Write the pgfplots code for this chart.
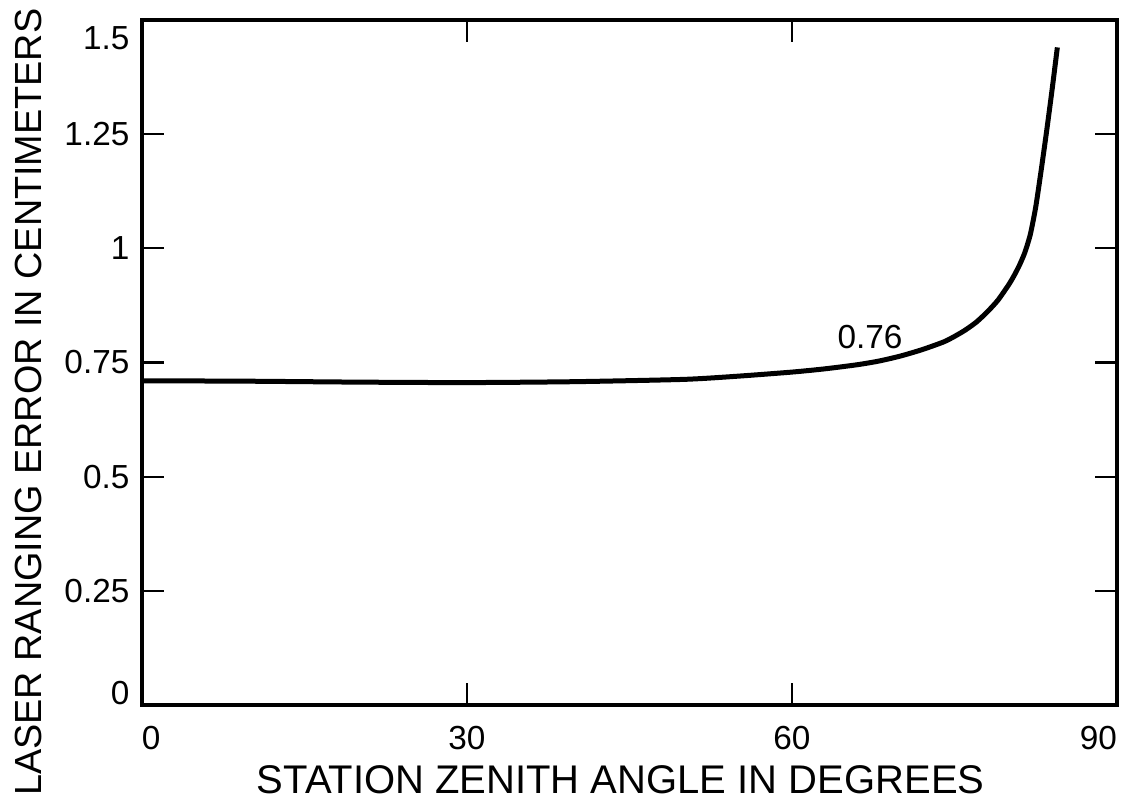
\documentclass[border=0pt]{standalone}
\usepackage{fontspec}
\setmainfont{Liberation Sans}
\usepackage{pgfplots}
\pgfplotsset{compat=1.18}
\begin{document}
\begin{tikzpicture}
\begin{axis}[
  scale only axis,
  width=351pt, height=246.6pt,
  xmin=0, xmax=90, ymin=0, ymax=1.5,
  xtick={0,30,60,90},
  ytick={0,0.25,0.5,0.75,1,1.25,1.5},
  yticklabels={\smash{0},0.25,0.5,0.75,1,1.25,\smash{\raisebox{-10.5pt}{1.5}}},
  xticklabels={\rlap{0},30,60,\llap{90}},
  tick align=inside,
  major tick length=8pt,
  axis line style={line width=1.3pt},
  every tick/.style={black, line width=0.8pt},
  tick label style={font=\fontsize{12}{14}\selectfont},
  xticklabel style={yshift=-4pt},
  yticklabel style={xshift=-1pt},
  xlabel={STATION ZENITH ANGLE IN DEGREES},
  ylabel={LASER RANGING ERROR IN CENTIMETERS},
  every axis y label/.style={at={(axis description cs:-0.1168,0.442)}, rotate=90, anchor=center, inner sep=0pt, font=\fontsize{13.6}{16}\selectfont},
  every axis x label/.style={at={(axis description cs:0.491,-0.1095)}, anchor=center, inner sep=0pt, font=\fontsize{14.4}{16}\selectfont},
  clip=false,
]
\addplot[black, line width=1.8pt, smooth, tension=0.4] coordinates {
  (0,0.710) (10,0.709) (20,0.707) (30,0.706) (40,0.708) (50,0.713)
  (55,0.720) (60,0.729) (63,0.736) (66,0.745) (68,0.753) (70,0.764)
  (72,0.778) (74,0.795) (75,0.807) (76,0.821) (77,0.838) (78,0.860)
  (79,0.886) (80,0.920) (80.5,0.940) (81,0.963) (81.5,0.991) (82,1.030)
  (82.5,1.090) (83,1.170) (83.5,1.255) (84,1.345) (84.5,1.440)
};
\node[font=\fontsize{12}{14}\selectfont] at (axis cs:67.2,0.805) {0.76};
\coordinate (ll) at (rel axis cs:0,0);
\coordinate (ur) at (rel axis cs:1,1);
\end{axis}
\pgfresetboundingbox
\path[use as bounding box] ([shift={(-51.1pt,-37.8pt)}]ll) rectangle ([shift={(2.9pt,7.2pt)}]ur);
\end{tikzpicture}
\end{document}
